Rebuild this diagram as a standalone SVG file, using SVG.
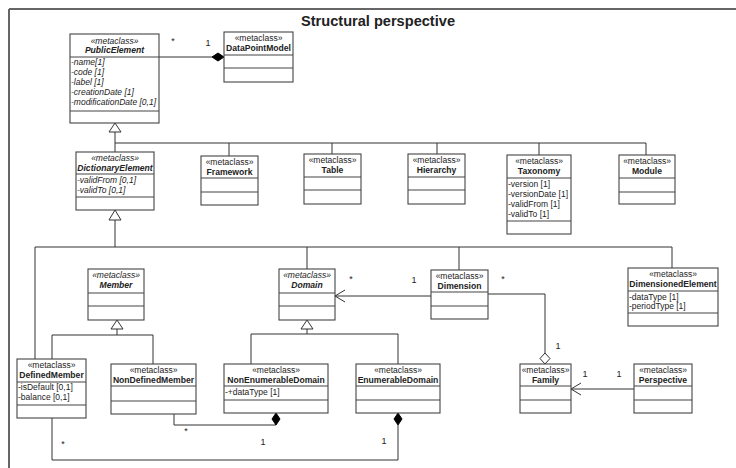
<svg xmlns="http://www.w3.org/2000/svg" width="736" height="468" viewBox="0 0 736 468">
<style>
text{font-family:"Liberation Sans",Arial,sans-serif;fill:#222}
.st{font-size:8.5px;text-anchor:middle}
.nm{font-size:8.6px;font-weight:bold;text-anchor:middle}
.at{font-size:8.5px}
.it{font-style:italic}
.lb{font-size:9px;text-anchor:middle}
.box{fill:#fff;stroke:#444;stroke-width:1.1}
.dv{stroke:#444;stroke-width:1.1}
.ln{fill:none;stroke:#333;stroke-width:1}
.gen{fill:#fff;stroke:#333;stroke-width:1}
.cmp{fill:#000;stroke:#000;stroke-width:1}
.agg{fill:#fff;stroke:#333;stroke-width:1}
</style>
<rect width="736" height="468" fill="#fff"/>
<path d="M9 9H736M9 9V468" fill="none" stroke="#666" stroke-width="2"/>
<text x="301" y="26" style="font-size:15px;font-weight:bold" textLength="154" lengthAdjust="spacingAndGlyphs">Structural perspective</text>

<g id="connectors">
  <!-- composition PublicElement - DataPointModel -->
  <path class="ln" d="M159 57H212"/>
  <path class="cmp" d="M224 57L218 53L212 57L218 61Z"/>
  <text class="lb" x="173" y="44">*</text>
  <text class="lb" x="208" y="46">1</text>
  <!-- generalization to PublicElement -->
  <path class="ln" d="M115 132V152M115 143H646M229 143V156M332 143V154M437 143V154M539 143V155M646 143V155"/>
  <path class="gen" d="M115 123L121 132H109Z"/>
  <!-- generalization to DictionaryElement -->
  <path class="ln" d="M115 220V247M35 247H672M35 247V359M307 247V269M459 247V270M672 247V268"/>
  <path class="gen" d="M115 210L121 220H109Z"/>
  <!-- generalization to Member -->
  <path class="ln" d="M117 329V335M52 335H153M52 335V359M153 335V364"/>
  <path class="gen" d="M117 320L123 329H111Z"/>
  <!-- generalization to Domain -->
  <path class="ln" d="M307 329V334M251 334H398M251 334V364M398 334V364"/>
  <path class="gen" d="M307 320L313 329H301Z"/>
  <!-- Dimension -> Domain -->
  <path class="ln" d="M431 296H335M345 290L335 296L345 302"/>
  <text class="lb" x="351" y="282">*</text>
  <text class="lb" x="414" y="283">1</text>
  <!-- Dimension - Family aggregation -->
  <path class="ln" d="M488 294H545V353"/>
  <path class="agg" d="M545 353L550 358.5L545 364L540 358.5Z"/>
  <text class="lb" x="503" y="282">*</text>
  <text class="lb" x="558" y="349">1</text>
  <!-- Perspective -> Family -->
  <path class="ln" d="M634 389H571M581 383L571 389L581 395"/>
  <text class="lb" x="585" y="377">1</text>
  <text class="lb" x="619" y="377">1</text>
  <!-- NonDefinedMember - NonEnumerableDomain -->
  <path class="ln" d="M174 414V425H276"/>
  <path class="cmp" d="M276 413L280 419L276 425L272 419Z"/>
  <text class="lb" x="186" y="434">*</text>
  <text class="lb" x="263" y="445">1</text>
  <!-- DefinedMember - EnumerableDomain -->
  <path class="ln" d="M52 418V460H398V425"/>
  <path class="cmp" d="M398 413L402 419L398 425L394 419Z"/>
  <text class="lb" x="63" y="447">*</text>
  <text class="lb" x="384" y="444">1</text>
</g>

<g id="PublicElement">
  <rect class="box" x="70" y="34" width="89" height="89"/>
  <path class="dv" d="M70 57H159M70 111H159"/>
  <text class="st it" x="114.5" y="44">«metaclass»</text>
  <text class="nm it" x="114.5" y="53">PublicElement</text>
  <text class="at it" x="71" y="65">-name[1]</text>
  <text class="at it" x="71" y="75">-code [1]</text>
  <text class="at it" x="71" y="85">-label [1]</text>
  <text class="at it" x="71" y="95">-creationDate [1]</text>
  <text class="at it" x="71" y="105">-modificationDate [0,1]</text>
</g>
<g id="DataPointModel">
  <rect class="box" x="224" y="32" width="69" height="50"/>
  <path class="dv" d="M224 55H293M224 68H293"/>
  <text class="st" x="258.5" y="41">«metaclass»</text>
  <text class="nm" x="258.5" y="51">DataPointModel</text>
</g>
<g id="DictionaryElement">
  <rect class="box" x="76" y="152" width="78" height="58"/>
  <path class="dv" d="M76 174H154M76 197H154"/>
  <text class="st it" x="115" y="161">«metaclass»</text>
  <text class="nm it" x="115" y="171">DictionaryElement</text>
  <text class="at it" x="77" y="183">-validFrom [0,1]</text>
  <text class="at it" x="77" y="193">-validTo [0,1]</text>
</g>
<g id="Framework">
  <rect class="box" x="201" y="156" width="57" height="49"/>
  <path class="dv" d="M201 178H258M201 192H258"/>
  <text class="st" x="229.5" y="165">«metaclass»</text>
  <text class="nm" x="229.5" y="175">Framework</text>
</g>
<g id="Table">
  <rect class="box" x="304" y="154" width="57" height="50"/>
  <path class="dv" d="M304 177H361M304 190H361"/>
  <text class="st" x="332.5" y="163">«metaclass»</text>
  <text class="nm" x="332.5" y="173">Table</text>
</g>
<g id="Hierarchy">
  <rect class="box" x="408" y="154" width="57" height="50"/>
  <path class="dv" d="M408 177H465M408 190H465"/>
  <text class="st" x="436.5" y="163">«metaclass»</text>
  <text class="nm" x="436.5" y="173">Hierarchy</text>
</g>
<g id="Taxonomy">
  <rect class="box" x="507" y="155" width="64" height="79"/>
  <path class="dv" d="M507 178H571M507 221H571"/>
  <text class="st" x="539" y="164">«metaclass»</text>
  <text class="nm" x="539" y="174">Taxonomy</text>
  <text class="at" x="508" y="187">-version [1]</text>
  <text class="at" x="508" y="197">-versionDate [1]</text>
  <text class="at" x="508" y="207">-validFrom [1]</text>
  <text class="at" x="508" y="217">-validTo [1]</text>
</g>
<g id="Module">
  <rect class="box" x="619" y="155" width="56" height="49"/>
  <path class="dv" d="M619 178H675M619 192H675"/>
  <text class="st" x="647" y="164">«metaclass»</text>
  <text class="nm" x="647" y="174">Module</text>
</g>
<g id="Member">
  <rect class="box" x="88" y="269" width="56" height="51"/>
  <path class="dv" d="M88 293H144M88 306H144"/>
  <text class="st it" x="116" y="278">«metaclass»</text>
  <text class="nm it" x="116" y="288">Member</text>
</g>
<g id="Domain">
  <rect class="box" x="279" y="269" width="56" height="51"/>
  <path class="dv" d="M279 293H335M279 306H335"/>
  <text class="st it" x="307" y="278">«metaclass»</text>
  <text class="nm it" x="307" y="288">Domain</text>
</g>
<g id="Dimension">
  <rect class="box" x="431" y="270" width="57" height="49"/>
  <path class="dv" d="M431 292H488M431 306H488"/>
  <text class="st" x="459.5" y="279">«metaclass»</text>
  <text class="nm" x="459.5" y="289">Dimension</text>
</g>
<g id="DimensionedElement">
  <rect class="box" x="628" y="268" width="90" height="58"/>
  <path class="dv" d="M628 291H718M628 313H718"/>
  <text class="st" x="673" y="277">«metaclass»</text>
  <text class="nm" x="673" y="287">DimensionedElement</text>
  <text class="at" x="629" y="300">-dataType [1]</text>
  <text class="at" x="629" y="309">-periodType [1]</text>
</g>
<g id="DefinedMember">
  <rect class="box" x="17" y="359" width="69" height="59"/>
  <path class="dv" d="M17 382H86M17 405H86"/>
  <text class="st" x="51.5" y="368">«metaclass»</text>
  <text class="nm" x="51.5" y="378">DefinedMember</text>
  <text class="at" x="18" y="390">-isDefault [0,1]</text>
  <text class="at" x="18" y="400">-balance [0,1]</text>
</g>
<g id="NonDefinedMember">
  <rect class="box" x="111" y="364" width="85" height="50"/>
  <path class="dv" d="M111 386H196M111 401H196"/>
  <text class="st" x="153.5" y="373">«metaclass»</text>
  <text class="nm" x="153.5" y="383">NonDefinedMember</text>
</g>
<g id="NonEnumerableDomain">
  <rect class="box" x="224" y="364" width="104" height="49"/>
  <path class="dv" d="M224 386H328M224 400H328"/>
  <text class="st" x="276" y="373">«metaclass»</text>
  <text class="nm" x="276" y="383">NonEnumerableDomain</text>
  <text class="at" x="225" y="395">-+dataType [1]</text>
</g>
<g id="EnumerableDomain">
  <rect class="box" x="356" y="364" width="84" height="49"/>
  <path class="dv" d="M356 386H440M356 400H440"/>
  <text class="st" x="398" y="373">«metaclass»</text>
  <text class="nm" x="398" y="383">EnumerableDomain</text>
</g>
<g id="Family">
  <rect class="box" x="520" y="364" width="51" height="49"/>
  <path class="dv" d="M520 386H571M520 400H571"/>
  <text class="st" x="545.5" y="373">«metaclass»</text>
  <text class="nm" x="545.5" y="383">Family</text>
</g>
<g id="Perspective">
  <rect class="box" x="634" y="364" width="58" height="49"/>
  <path class="dv" d="M634 386H692M634 400H692"/>
  <text class="st" x="663" y="373">«metaclass»</text>
  <text class="nm" x="663" y="383">Perspective</text>
</g>
</svg>
